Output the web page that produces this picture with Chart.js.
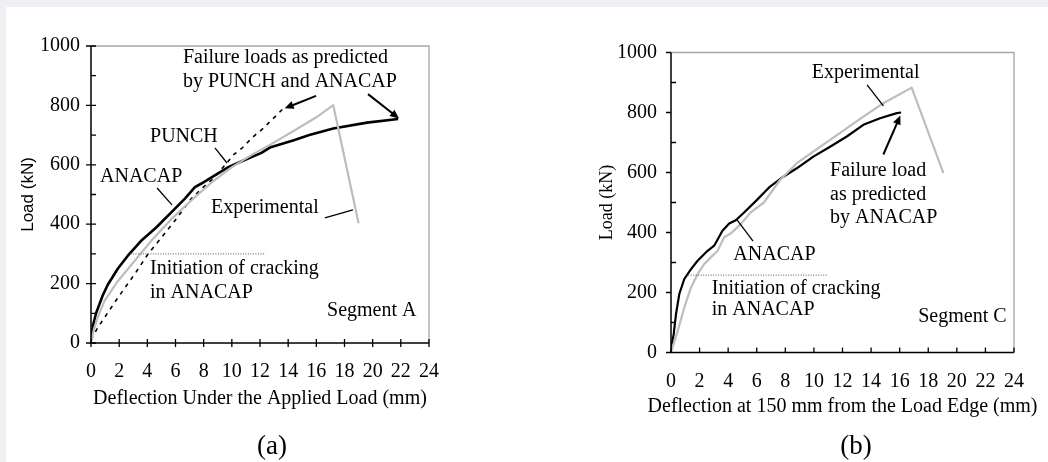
<!DOCTYPE html>
<html><head><meta charset="utf-8">
<script src="https://cdn.jsdelivr.net/npm/chart.js@4.4.0/dist/chart.umd.min.js"></script>
<style>
html,body{margin:0;padding:0;width:1048px;height:462px;overflow:hidden;background:#eef0f3;}
#sheet{position:absolute;left:6px;top:7px;width:1042px;height:455px;background:#fff;}
#ca{position:absolute;left:0;top:0;}
#cb{position:absolute;left:540px;top:0;}
.cap{position:absolute;font-family:'Liberation Serif',serif;font-size:27px;color:#000;transform:translate(-50%,-50%);white-space:nowrap;}
</style></head><body>
<div id="sheet"></div>
<canvas id="ca" width="540" height="462"></canvas>
<canvas id="cb" width="508" height="462"></canvas>
<div class="cap" style="left:272px;top:445px">(a)</div>
<div class="cap" style="left:856px;top:445px">(b)</div>
<script>
// ---------- tick labels ----------
const xTicks = [0, 2, 4, 6, 8, 10, 12, 14, 16, 18, 20, 22, 24];
const yTicks = [0, 200, 400, 600, 800, 1000];
const yMinorTicks = [100, 300, 500, 700, 900];

// ---------- Segment A (a) ----------
const aExpX = [0, 0.2, 0.47, 0.95, 1.9, 3.09, 4.28, 5.7, 7.1, 8.57, 10, 11.5, 12.7, 14.5, 16.0, 17.2, 19.0];
const aExpY = [0, 45, 85, 141, 208, 276, 344, 417, 479, 541, 592, 636, 667, 717, 760, 801, 403];
const aAnaX = [0, 0.15, 0.36, 0.83, 1.19, 1.9, 2.6, 3.56, 4.63, 5.7, 6.65, 7.38, 7.84, 8.3, 9.75, 10.7, 12.1, 12.7, 14.4, 15.5, 17.2, 19.6, 21.8];
const aAnaY = [10, 60, 100, 160, 196, 250, 293, 344, 389, 440, 485, 525, 537, 550, 592, 612, 640, 658, 683, 700, 722, 742, 754];
const aPunX = [0, 0.47, 0.95, 1.9, 3.09, 4.04, 5.0, 5.94, 7.1, 7.84, 8.6, 9.63, 10.1, 10.7, 11.17, 11.65, 12.24, 12.7, 13.2, 13.66];
const aPunY = [11, 51, 85, 152, 231, 299, 355, 411, 485, 519, 550, 605, 633, 655, 678, 700, 723, 745, 768, 790];
const aCrackX = [2.8, 12.4];
const aCrackY = [300, 300];

// ---------- Segment C (b) ----------
const cExpX = [0, 0.47, 0.93, 1.4, 1.86, 2.33, 2.79, 3.26, 3.72, 4.19, 4.88, 5.58, 6.5, 7.63, 8.8, 11.13, 13.46, 14.86, 16.84, 19.06];
const cExpY = [0, 72, 150, 217, 261, 295, 317, 339, 384, 397, 428, 467, 500, 575, 631, 709, 786, 831, 883, 598];
const cAnaX = [0, 0.19, 0.35, 0.58, 0.93, 1.4, 1.86, 2.56, 3.02, 3.6, 4.07, 4.53, 5.06, 6.0, 6.93, 7.86, 8.8, 9.96, 11.13, 12.3, 13.46, 14.63, 15.8, 16.1];
const cAnaY = [17, 61, 128, 195, 245, 278, 306, 339, 356, 406, 430, 441, 464, 508, 553, 586, 614, 653, 686, 720, 759, 781, 798, 800];
const cCrackX = [1.2, 10.9];
const cCrackY = [258, 258];

// ---------- annotation texts (data coords: left x, middle y) ----------
const aTexts = [
  ['Failure loads as predicted', 6.53, 960],
  ['by PUNCH and ANACAP', 6.53, 879],
  ['PUNCH', 4.19, 694],
  ['ANACAP', 0.64, 559],
  ['Experimental', 8.52, 455],
  ['Initiation of cracking', 4.19, 249],
  ['in ANACAP', 4.19, 168],
  ['Segment A', 16.76, 108]
];
const aLines = [ // x1,y1,x2,y2,arrow
  [15.98, 832, 13.75, 790, 1],
  [19.67, 838, 21.87, 756, 1],
  [8.8, 657, 9.66, 606, 0],
  [4.69, 522, 5.75, 465, 0],
  [16.6, 421, 18.6, 448, 0]
];
const cTexts = [
  ['Experimental', 9.85, 933],
  ['Failure load', 11.13, 606],
  ['as predicted', 11.13, 527],
  ['by ANACAP', 11.13, 449],
  ['ANACAP', 4.36, 325],
  ['Initiation of cracking', 2.85, 214],
  ['in ANACAP', 2.85, 141],
  ['Segment C', 17.3, 119]
];
const cLines = [
  [13.72, 892, 14.86, 822, 0],
  [14.86, 660, 16.05, 790, 1],
  [4.62, 442, 5.74, 371, 0]
];

const SERIF = "'Liberation Serif', 'Times New Roman', serif";
const pts = (xs, ys) => xs.map((x, i) => ({x: x, y: ys[i]}));

function makePlugin(spec) {
  return {
    id: 'deco',
    afterDraw(chart) {
      const ctx = chart.ctx, xs = chart.scales.x, ys = chart.scales.y, ca = chart.chartArea;
      const px = v => xs.getPixelForValue(v), py = v => ys.getPixelForValue(v);
      ctx.save();
      // frame top / right
      ctx.strokeStyle = '#a6a6a6'; ctx.lineWidth = 1.3;
      ctx.beginPath();
      ctx.moveTo(ca.left, ca.top); ctx.lineTo(ca.right, ca.top); ctx.lineTo(ca.right, ca.bottom);
      ctx.stroke();
      // axes
      ctx.strokeStyle = '#000'; ctx.lineWidth = 1.5;
      ctx.beginPath();
      ctx.moveTo(ca.left, ca.top); ctx.lineTo(ca.left, ca.bottom); ctx.lineTo(ca.right, ca.bottom);
      ctx.stroke();
      // ticks
      ctx.lineWidth = 1.3;
      ctx.beginPath();
      xTicks.forEach(v => { const X = px(v); ctx.moveTo(X, ca.bottom - spec.xUp); ctx.lineTo(X, ca.bottom + spec.xDown); });
      yTicks.forEach(v => { const Y = py(v); ctx.moveTo(ca.left - spec.yOut, Y); ctx.lineTo(ca.left + spec.yIn, Y); });
      yMinorTicks.forEach(v => { const Y = py(v); ctx.moveTo(ca.left, Y); ctx.lineTo(ca.left + spec.mIn, Y); });
      ctx.stroke();
      // leader lines & arrows
      ctx.strokeStyle = '#000'; ctx.fillStyle = '#000';
      spec.lines.forEach(l => {
        const x1 = px(l[0]), y1 = py(l[1]), x2 = px(l[2]), y2 = py(l[3]);
        const ang = Math.atan2(y2 - y1, x2 - x1);
        const hl = 9, hw = 4;
        const ex = l[4] ? x2 - Math.cos(ang) * hl * 0.8 : x2, ey = l[4] ? y2 - Math.sin(ang) * hl * 0.8 : y2;
        ctx.lineWidth = l[4] ? 2 : 1.3;
        ctx.beginPath(); ctx.moveTo(x1, y1); ctx.lineTo(ex, ey); ctx.stroke();
        if (l[4]) {
          ctx.beginPath();
          ctx.moveTo(x2, y2);
          ctx.lineTo(x2 - Math.cos(ang) * hl - Math.sin(ang) * hw, y2 - Math.sin(ang) * hl + Math.cos(ang) * hw);
          ctx.lineTo(x2 - Math.cos(ang) * hl + Math.sin(ang) * hw, y2 - Math.sin(ang) * hl - Math.cos(ang) * hw);
          ctx.closePath(); ctx.fill();
        }
      });
      // texts
      ctx.fillStyle = '#000';
      ctx.font = '20px ' + SERIF;
      ctx.textBaseline = 'middle'; ctx.textAlign = 'left';
      spec.texts.forEach(t => ctx.fillText(t[0], px(t[1]), py(t[2])));
      // x axis title
      ctx.textAlign = 'center';
      ctx.fillText(spec.xTitle, (ca.left + ca.right) / 2, spec.xTitleY);
      ctx.restore();
    }
  };
}

function makeChart(id, ds, spec) {
  return new Chart(document.getElementById(id), {
    type: 'line',
    data: {datasets: ds},
    options: {
      responsive: false, animation: false, events: [],
      layout: {padding: spec.padding},
      elements: {point: {radius: 0}, line: {tension: 0, borderCapStyle: 'butt', borderJoinStyle: 'round'}},
      plugins: {legend: {display: false}, tooltip: {enabled: false}},
      scales: {
        x: {
          type: 'linear', min: 0, max: 24,
          afterBuildTicks: s => { s.ticks = xTicks.map(v => ({value: v})); },
          afterFit: s => { s.height = 70; },
          grid: {display: false, drawTicks: false}, border: {display: false},
          ticks: {autoSkip: false, maxRotation: 0, padding: spec.xPad, color: '#000',
                  callback: v => String(v), font: {family: SERIF, size: 20}}
        },
        y: {
          type: 'linear', min: 0, max: 1000,
          afterBuildTicks: s => { s.ticks = yTicks.map(v => ({value: v})); },
          afterFit: s => { s.width = 91; },
          grid: {display: false, drawTicks: false}, border: {display: false},
          ticks: {padding: spec.yPad, color: '#000', callback: v => String(v),
                  font: {family: SERIF, size: 20}},
          title: {display: true, text: 'Load (kN)', color: '#000', font: spec.yTitleFont,
                  padding: {top: spec.yTitlePad, bottom: 0}}
        }
      }
    },
    plugins: [makePlugin(spec)]
  });
}

const GRAY = '#bdbdbd';
makeChart('ca', [
  {data: pts(aCrackX, aCrackY), borderColor: '#555', borderWidth: 1, borderDash: [1, 1.5]},
  {data: pts(aExpX, aExpY), borderColor: GRAY, borderWidth: 2.2},
  {data: pts(aPunX, aPunY), borderColor: '#000', borderWidth: 1.6, borderDash: [4, 5]},
  {data: pts(aAnaX, aAnaY), borderColor: '#000', borderWidth: 2.6}
], {
  padding: {left: 0, right: 111, top: 46, bottom: 49},
  xPad: 17, yPad: 11, yTitlePad: 18,
  yTitleFont: {family: "'Liberation Sans Narrow', 'Liberation Sans', sans-serif", size: 17},
  xUp: 4, xDown: 4, yOut: 5, yIn: 5, mIn: 5,
  texts: aTexts, lines: aLines,
  xTitle: 'Deflection Under the Applied Load (mm)', xTitleY: 399
});

makeChart('cb', [
  {data: pts(cCrackX, cCrackY), borderColor: '#555', borderWidth: 1, borderDash: [1, 1.5]},
  {data: pts(cExpX, cExpY), borderColor: GRAY, borderWidth: 2.2},
  {data: pts(cAnaX, cAnaY), borderColor: '#000', borderWidth: 2.2}
], {
  padding: {left: 40, right: 34, top: 52.5, bottom: 39.5},
  xPad: 17.5, yPad: 14, yTitlePad: 16,
  yTitleFont: {family: SERIF, size: 18},
  xUp: 5, xDown: 0, yOut: 5, yIn: 0, mIn: 5,
  texts: cTexts, lines: cLines,
  xTitle: 'Deflection at 150 mm from the Load Edge (mm)', xTitleY: 407
});
</script>
</body></html>
